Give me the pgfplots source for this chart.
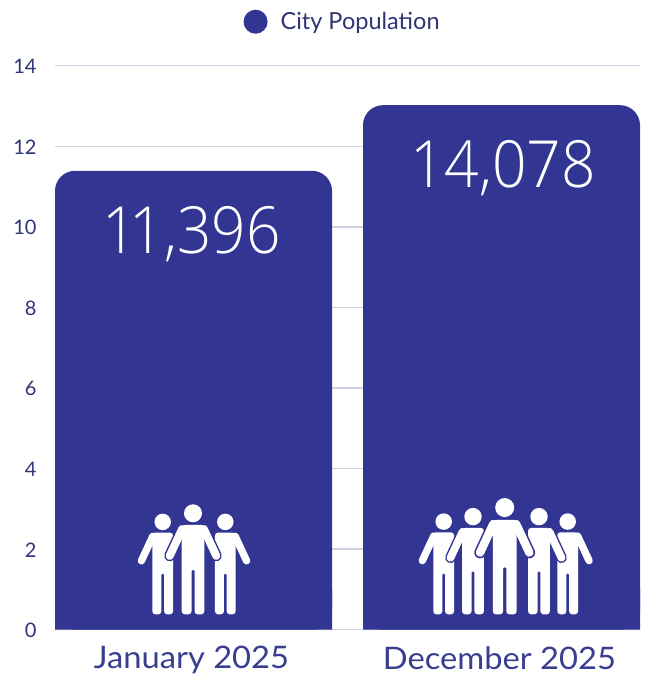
\documentclass[border=0pt]{standalone}
\usepackage{fontspec}
\usepackage{pgfplots}
\pgfplotsset{compat=1.18}
\setmainfont{Lato}
\newfontfamily\lightfont[FakeStretch=0.93]{Open Sans Light}
\newfontfamily\xlabfont[FakeStretch=1.055]{Lato}
\definecolor{navy}{HTML}{323692}
\definecolor{labelc}{HTML}{2F3475}
\definecolor{xlabc}{HTML}{3A3E8F}
\definecolor{gridc}{HTML}{D0CFE3}
\newcommand{\person}[3]{%
\begin{scope}[shift={(#1pt,60.7pt)},x=#2pt,y=#2pt]
\foreach \s in {#3}{\draw[navy,line width=#2*11pt,line cap=round] ({\s*10.8},85.3)--({\s*23.3},58.4);}
\fill[white] (0,101) circle (9);
\fill[white,rounded corners=3pt] (-11.3,89.3)--(-11.3,0)--(-1.5,0)[rounded corners=1pt]--(-1.5,44.3)--(1.5,44.3)[rounded corners=3pt]--(1.5,0)--(11.3,0)--(11.3,89.3)--cycle;
\foreach \s in {#3}{\draw[white,line width=#2*8pt,line cap=round] ({\s*10.8},85.3)--({\s*23.3},58.4);}
\end{scope}}
\begin{document}
\begin{tikzpicture}[x=1pt,y=1pt]
\path[use as bounding box] (0,0) rectangle (647,675);
\begin{axis}[
  at={(55pt,45.3pt)},anchor=south west,
  width=585pt,height=564pt,scale only axis,
  xmin=-0.44968,xmax=1.44968,ymin=0,ymax=14,
  xtick={0,1},xticklabels={January 2025,December 2025},
  ytick={0,2,4,6,8,10,12,14},
  /pgf/number format/assume math mode=true,
  ymajorgrids,grid style={gridc,line width=1.5pt},
  axis line style={draw=none},
  major tick length=0pt,
  tick label style={text=labelc},
  yticklabel style={font=\fontsize{20}{24}\selectfont,xshift=-15pt,yshift=-0.7pt},
  xticklabel style={font=\xlabfont\fontsize{31}{36}\selectfont,text=xlabc,yshift=-13pt,xshift=-2pt},
  legend style={draw=none,fill=none,at={(axis description cs:0.322,1.078)},anchor=west,
    font=\fontsize{23.5}{28}\selectfont,text=labelc,inner sep=0pt},
  legend image code/.code={\fill[navy] (0pt,0pt) circle (12pt);\path (23pt,0pt);},
]
\addplot[ybar,bar width=277pt,bar shift=0pt,fill=navy,draw=none,rounded corners=20pt] coordinates {(0,11.39)(1,13.02)};
\addlegendentry{City Population}
\addplot[ybar,bar width=277pt,bar shift=0pt,fill=navy,draw=none,forget plot] coordinates {(0,1)(1,1)};
\node[text=white,font=\lightfont\fontsize{65}{70}\selectfont] at (axis cs:-0.006,9.83) {1\kern-7pt 1,396};
\node[text=white,font=\lightfont\fontsize{65}{70}\selectfont] at (axis cs:1.005,11.45) {14,078};
\end{axis}
\person{162.7}{0.915}{-1}
\person{225.3}{0.915}{1}
\person{193}{1}{-1,1}
\person{443.7}{0.918}{-1}
\person{567.7}{0.918}{1}
\person{473}{0.967}{-1}
\person{539}{0.967}{1}
\person{504.7}{1.057}{-1,1}
\end{tikzpicture}
\end{document}
